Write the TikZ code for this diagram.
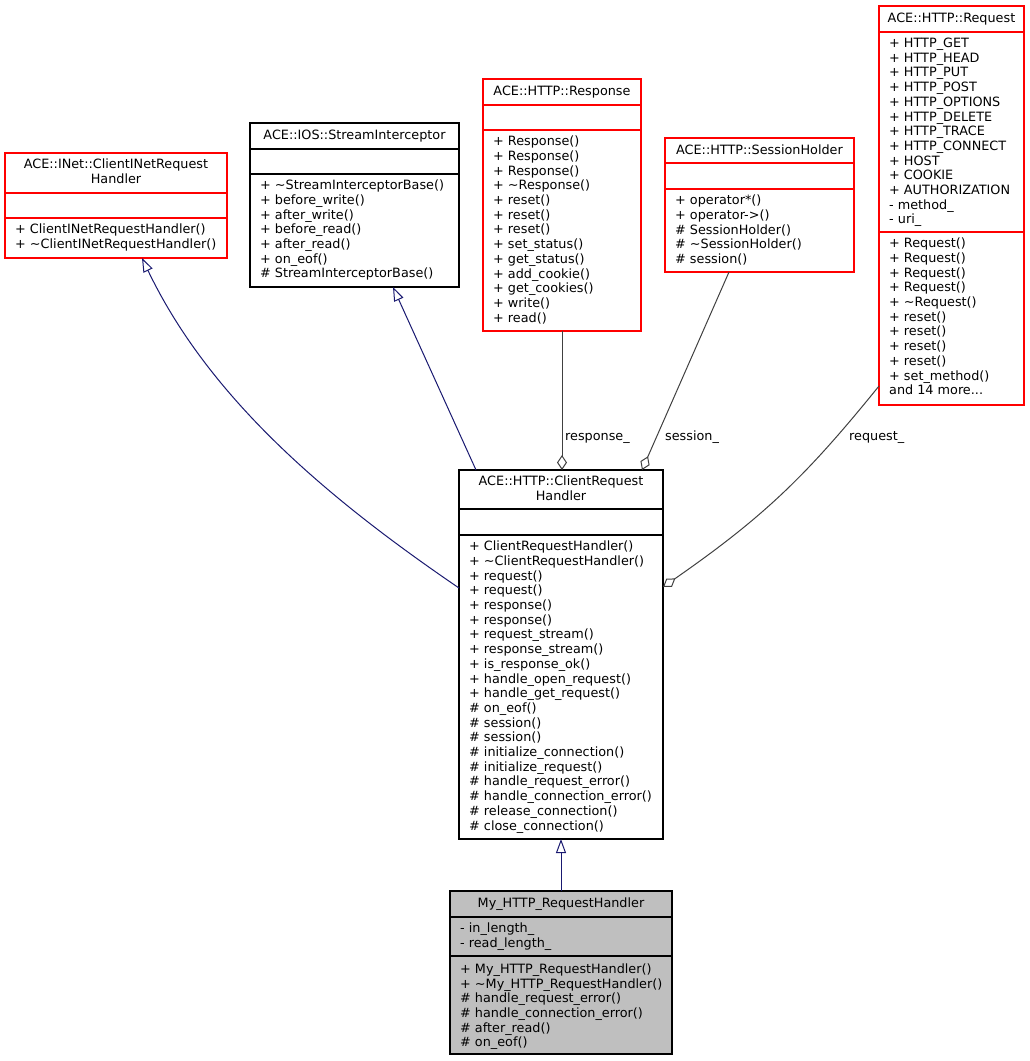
\documentclass[tikz,border=0pt]{standalone}
\usepackage{fontspec}
\setmainfont{DejaVu Sans}
\usetikzlibrary{arrows.meta}
\definecolor{boxred}{HTML}{FF0000}
\definecolor{boxgray}{HTML}{BFBFBF}
\definecolor{edgeblue}{HTML}{191970}
\definecolor{edgegray}{HTML}{404040}
\newcommand\umlfont{\fontsize{12.8}{14.7}\selectfont}
\tikzset{
  classbox/.style={draw=black,line width=1.2pt,inner sep=0pt,outer sep=0pt,anchor=north west},
  redbox/.style={classbox,draw=boxred},
  mainbox/.style={classbox,fill=boxgray},
  sepline/.style={line width=1.2pt},
  title/.style={anchor=north,align=center,inner sep=0pt,font=\umlfont,execute at begin node=\strut},
  members/.style={anchor=north west,align=left,inner sep=0pt,font=\umlfont,execute at begin node=\strut},
  rolelabel/.style={anchor=base west,inner sep=0pt,font=\umlfont},
  inherit/.style={draw=edgeblue,line width=1pt,-{Triangle[open,length=14pt,width=10pt]}},
  aggr/.style={draw=edgegray,line width=1pt,-{Diamond[open,length=15pt,width=10pt]}}
}
\begin{document}
\begin{tikzpicture}[x=1pt,y=-1pt]
                \useasboundingbox (0,0) rectangle (1029,1061);
                %% ACE::INet::ClientINetRequestHandler
                \node[redbox,minimum width=222pt,minimum height=105pt] (inet) at (5,153) {};
                \draw[sepline,boxred] ([yshift=-40pt]inet.north west) -- ([yshift=-40pt]inet.north east);
                \draw[sepline,boxred] ([yshift=-65pt]inet.north west) -- ([yshift=-65pt]inet.north east);
                \node[title] (inettitle) at (116,158.8) {ACE::INet::ClientINetRequest\\Handler};
                \node[members] (inetops) at (15,223.8) {+ ClientINetRequestHandler()\\+ \textasciitilde ClientINetRequestHandler()};
                %% ACE::IOS::StreamInterceptor
                \node[classbox,minimum width=209pt,minimum height=164pt] (sis) at (250,123) {};
                \draw[sepline] ([yshift=-26pt]sis.north west) -- ([yshift=-26pt]sis.north east);
                \draw[sepline] ([yshift=-51pt]sis.north west) -- ([yshift=-51pt]sis.north east);
                \node[title] (sistitle) at (354.5,128.8) {ACE::IOS::StreamInterceptor};
                \node[members] (sisops) at (260,179.8) {+ \textasciitilde StreamInterceptorBase()\\+ before\_write()\\+ after\_write()\\+ before\_read()\\+ after\_read()\\+ on\_eof()\\\# StreamInterceptorBase()};
                %% ACE::HTTP::Response
                \node[redbox,minimum width=158pt,minimum height=252pt] (resp) at (483,79) {};
                \draw[sepline,boxred] ([yshift=-26pt]resp.north west) -- ([yshift=-26pt]resp.north east);
                \draw[sepline,boxred] ([yshift=-51pt]resp.north west) -- ([yshift=-51pt]resp.north east);
                \node[title] (resptitle) at (562,84.8) {ACE::HTTP::Response};
                \node[members] (respops) at (493,135.8) {+ Response()\\+ Response()\\+ Response()\\+ \textasciitilde Response()\\+ reset()\\+ reset()\\+ reset()\\+ set\_status()\\+ get\_status()\\+ add\_cookie()\\+ get\_cookies()\\+ write()\\+ read()};
                %% ACE::HTTP::SessionHolder
                \node[redbox,minimum width=189pt,minimum height=134pt] (sh) at (665,138) {};
                \draw[sepline,boxred] ([yshift=-25pt]sh.north west) -- ([yshift=-25pt]sh.north east);
                \draw[sepline,boxred] ([yshift=-51pt]sh.north west) -- ([yshift=-51pt]sh.north east);
                \node[title] (shtitle) at (759.5,143.8) {ACE::HTTP::SessionHolder};
                \node[members] (shops) at (675,194.8) {+ operator*()\\+ operator->()\\\# SessionHolder()\\\# \textasciitilde SessionHolder()\\\# session()};
                %% ACE::HTTP::Request
                \node[redbox,minimum width=145pt,minimum height=399pt] (req) at (879,6) {};
                \draw[sepline,boxred] ([yshift=-26pt]req.north west) -- ([yshift=-26pt]req.north east);
                \draw[sepline,boxred] ([yshift=-226pt]req.north west) -- ([yshift=-226pt]req.north east);
                \node[title] (reqtitle) at (951.5,11.8) {ACE::HTTP::Request};
                \node[members] (reqattrs) at (889,37.8) {+ HTTP\_GET\\+ HTTP\_HEAD\\+ HTTP\_PUT\\+ HTTP\_POST\\+ HTTP\_OPTIONS\\+ HTTP\_DELETE\\+ HTTP\_TRACE\\+ HTTP\_CONNECT\\+ HOST\\+ COOKIE\\+ AUTHORIZATION\\- method\_\\- uri\_};
                \node[members] (reqops) at (889,237.8) {+ Request()\\+ Request()\\+ Request()\\+ Request()\\+ \textasciitilde Request()\\+ reset()\\+ reset()\\+ reset()\\+ reset()\\+ set\_method()\\and 14 more...};
                %% ACE::HTTP::ClientRequestHandler
                \node[classbox,fill=white,minimum width=204pt,minimum height=369pt] (crh) at (459,470) {};
                \draw[sepline] ([yshift=-39pt]crh.north west) -- ([yshift=-39pt]crh.north east);
                \draw[sepline] ([yshift=-65pt]crh.north west) -- ([yshift=-65pt]crh.north east);
                \node[title] (crhtitle) at (561,475.8) {ACE::HTTP::ClientRequest\\Handler};
                \node[members] (crhops) at (469,540.8) {+ ClientRequestHandler()\\+ \textasciitilde ClientRequestHandler()\\+ request()\\+ request()\\+ response()\\+ response()\\+ request\_stream()\\+ response\_stream()\\+ is\_response\_ok()\\+ handle\_open\_request()\\+ handle\_get\_request()\\\# on\_eof()\\\# session()\\\# session()\\\# initialize\_connection()\\\# initialize\_request()\\\# handle\_request\_error()\\\# handle\_connection\_error()\\\# release\_connection()\\\# close\_connection()};
                %% My_HTTP_RequestHandler
                \node[mainbox,minimum width=222pt,minimum height=163pt] (my) at (450,891) {};
                \draw[sepline] ([yshift=-26pt]my.north west) -- ([yshift=-26pt]my.north east);
                \draw[sepline] ([yshift=-65pt]my.north west) -- ([yshift=-65pt]my.north east);
                \node[title] (mytitle) at (561,896.8) {My\_HTTP\_RequestHandler};
                \node[members] (myattrs) at (460,922.8) {- in\_length\_\\- read\_length\_};
                \node[members] (myops) at (460,963.5) {+ My\_HTTP\_RequestHandler()\\+ \textasciitilde My\_HTTP\_RequestHandler()\\\# handle\_request\_error()\\\# handle\_connection\_error()\\\# after\_read()\\\# on\_eof()};
                %% inheritance
                \draw[inherit] ([yshift=-118pt]crh.north west) .. controls (330,500) and (210,400) .. ([xshift=137pt]inet.south west);
                \draw[inherit] ([xshift=17pt]crh.north west) -- ([xshift=143pt]sis.south west);
                \draw[inherit] (my.north) -- (crh.south);
                %% aggregation
                \draw[aggr] (resp.south) -- (resp.south |- crh.north);
                \node[rolelabel] (resplabel) at (565,440.5) {response\_};
                \draw[aggr] ([xshift=64pt]sh.south west) -- ([xshift=183pt]crh.north west);
                \node[rolelabel] (shlabel) at (665,440.5) {session\_};
                \draw[aggr] ([yshift=19pt]req.south west) .. controls (807,475) and (765,516) .. ([yshift=-117pt]crh.north east);
                \node[rolelabel] (reqlabel) at (849,440.5) {request\_};
            \end{tikzpicture}
\end{document}
